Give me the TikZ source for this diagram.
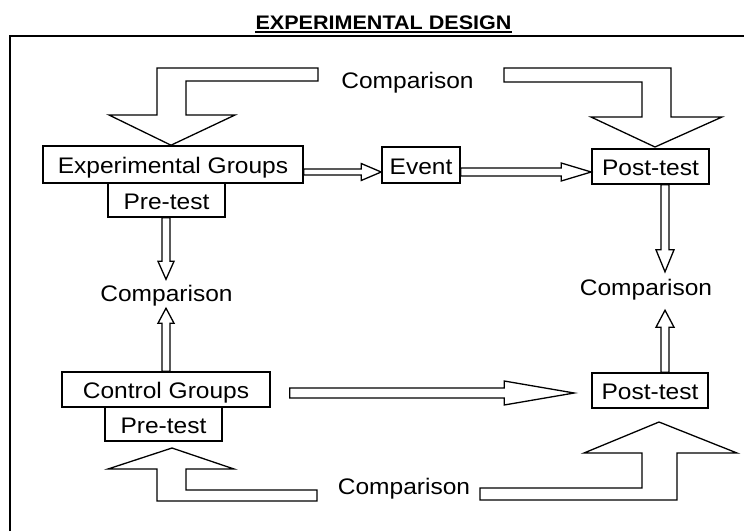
\documentclass[tikz,border=0pt]{standalone}
\usepackage{fontspec}
\setmainfont{Liberation Sans}[FakeStretch=1.09]
\newfontfamily\titlefont{Liberation Sans}[FakeStretch=1.1]
\usetikzlibrary{calc}
\tikzset{
  box/.style={draw, line width=1.6pt, inner sep=0pt, text height=18pt, text depth=0pt,
    font=\fontsize{22.5}{27}\selectfont},
  cmp/.style={inner xsep=0pt, inner ysep=5pt, text height=17pt, text depth=0pt,
    font=\fontsize{22.5}{27}\selectfont, anchor=base},
  arrowline/.style={draw, line width=1.3pt, line join=miter},
  frameline/.style={draw, line width=1.5pt},
}
\newcommand\hollowarrow[5]{%
  \coordinate (hb) at ($(#2)!#5!(#1)$);
  \draw[arrowline] ($(#1)!#3!90:(#2)$) -- ($(hb)!#3!-90:(#1)$) -- ($(hb)!#4!-90:(#1)$)
    -- (#2) -- ($(hb)!#4!90:(#1)$) -- ($(hb)!#3!90:(#1)$) -- ($(#1)!#3!-90:(#2)$) -- cycle;
}
\begin{document}
\begin{tikzpicture}[x=1pt, y=-1pt]
\useasboundingbox (0,0) rectangle (744,531);
\fill[white] (0,0) rectangle (744,531);

% title and frame
\node[font=\titlefont\bfseries\fontsize{19.6}{24}\selectfont, inner sep=0pt, anchor=base]
  (title) at (383.5,29) {EXPERIMENTAL DESIGN};
\draw[line width=1.6pt] ([yshift=-3pt]title.base west) -- ([yshift=-3pt]title.base east);
\draw[frameline] (10,531) -- (10,36) -- (744,36);

% boxes
\node[box, minimum width=260pt, minimum height=37pt] (expg) at (173,164.5) {Experimental Groups};
\node[box, minimum width=117pt, minimum height=34pt] (exppre) at (166.5,200) {Pre-test};
\node[box, minimum width=78pt, minimum height=36pt] (ev) at (421,165) {Event};
\node[box, minimum width=117pt, minimum height=35pt] (post1) at (650.5,166.5) {Post-test};
\node[box, minimum width=208pt, minimum height=35pt] (ctrl) at (166,389.5) {Control Groups};
\node[box, minimum width=117pt, minimum height=34pt] (ctrlpre) at (163.5,424) {Pre-test};
\node[box, minimum width=116pt, minimum height=35pt] (post2) at (650,390.5) {Post-test};

% comparison labels
\node[cmp] (cmpT) at (407.5,88) {Comparison};
\node[cmp] (cmpL) at (166.5,301.5) {Comparison};
\node[cmp] (cmpR) at (646,295) {Comparison};
\node[cmp] (cmpB) at (404,494) {Comparison};

% straight hollow arrows
\coordinate (a1s) at ([yshift=-7.5pt]expg.east);
\coordinate (a1e) at ([yshift=-7pt]ev.west);
\hollowarrow{a1s}{a1e}{3pt}{8.5pt}{20pt}
\coordinate (a2s) at ([yshift=-7pt]ev.east);
\coordinate (a2e) at ([yshift=-5.5pt]post1.west);
\hollowarrow{a2s}{a2e}{4pt}{9pt}{30pt}
\coordinate (a3s) at ([xshift=-0.5pt]exppre.south);
\coordinate (a3e) at (a3s |- cmpL.north);
\hollowarrow{a3s}{a3e}{4pt}{8pt}{18pt}
\coordinate (a4s) at (ctrl.north);
\coordinate (a4e) at ($(a4s |- cmpL.south)+(0,1.5)$);
\hollowarrow{a4s}{a4e}{4pt}{8pt}{15pt}
\coordinate (a5s) at ([xshift=14.5pt]post1.south);
\coordinate (a5e) at ($(a5s |- cmpR.north)+(0,-1)$);
\hollowarrow{a5s}{a5e}{4pt}{9pt}{22pt}
\coordinate (a6s) at ([xshift=15pt]post2.north);
\coordinate (a6e) at ($(a6s |- cmpR.south)+(0,10)$);
\hollowarrow{a6s}{a6e}{4pt}{9pt}{17pt}
\coordinate (a7s) at ($(ctrl.east)+(19,3.5)$);
\coordinate (a7e) at ($(post2.west)+(-17,2.5)$);
\hollowarrow{a7s}{a7e}{5pt}{12pt}{70pt}

% bent comparison arrows
\draw[arrowline] (318,68) -- (157,68) -- (157,115) -- (109,115) -- ([xshift=-2pt]expg.north)
  -- (235,115) -- (186,115) -- (186,81) -- (318,81) -- cycle;
\draw[arrowline] (504,68) -- (671,68) -- (671,117) -- (722,117) -- (655,147)
  -- (591,117) -- (642,117) -- (642,82) -- (504,82) -- cycle;
\draw[arrowline] (317,490) -- (186,490) -- (186,469) -- (234,469) -- (172,448)
  -- (108,469) -- (157,469) -- (157,501) -- (317,501) -- cycle;
\draw[arrowline] (480,488) -- (642,488) -- (642,453) -- (584,453) -- (659,422)
  -- (737,453) -- (677,453) -- (677,500) -- (480,500) -- cycle;
\end{tikzpicture}
\end{document}
